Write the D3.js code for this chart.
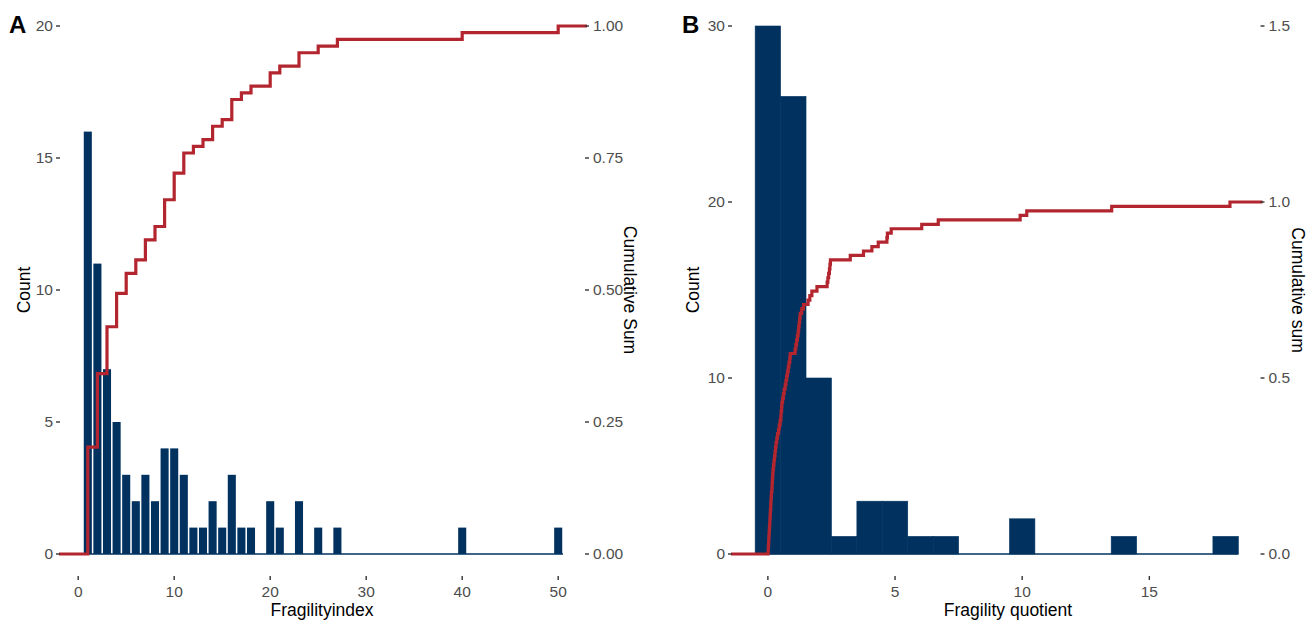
<!DOCTYPE html>
<html>
<head>
<meta charset="utf-8">
<script src="https://cdn.jsdelivr.net/npm/d3@7"></script>
<style>
  body { margin: 0; background: #fff; }
  svg { font-family: "Liberation Sans", Arial, sans-serif; }
</style>
</head>
<body>
<svg width="1308" height="621"></svg>
<script>
const svg = d3.select("svg");
const navy = "#01325f", red = "#b3262f";

// Panel A: fragility index histogram (bins of width 1)
const fiBins = [1,2,3,4,5,6,7,8,9,10,11,12,13,14,15,16,17,18,19,20,21,22,23,24,25,26,27,40,50];
const fiCounts = [16,11,7,5,3,2,3,2,4,4,3,1,1,2,1,3,1,1,0,2,1,0,2,0,1,0,1,1,1];
const fiTicksX = [0,10,20,30,40,50];
const fiTicksY = [0,5,10,15,20];
const fiTicksY2 = [0,0.25,0.5,0.75,1];

// Panel B: fragility quotient histogram + sorted values for the ecdf
const fqBins = [0,1,2,3,4,5,6,7,10,14,18];
const fqCounts = [30,26,10,1,3,3,1,1,2,1,1];
const fqValues = [
  0.01,0.02,0.03,0.04,0.05,0.06,0.07,0.08,0.09,
  0.10,0.11,0.12,0.13,0.14,0.16,
  0.17,0.18,0.19,0.20,0.22,
  0.24,0.26,0.28,0.30,0.32,0.35,
  0.38,0.42,0.45,0.48,
  0.51,0.52,0.54,0.55,
  0.58,0.61,0.64,0.68,
  0.71,0.74,0.77,0.80,0.83,0.86,0.88,
  1.07,
  1.10,1.13,1.16,1.19,1.21,1.23,1.25,1.27,
  1.33,1.40,
  1.58,
  1.65,1.73,
  1.93,
  2.33,2.36,2.39,2.42,2.44,2.46,
  3.24,
  3.76,4.09,4.34,
  4.68,4.70,4.85,
  6.05,
  6.70,
  9.92,10.18,
  13.52,
  18.17
];
const fqTicksX = [0,5,10,15];
const fqTicksY = [0,10,20,30];
const fqTicksY2 = [0,0.5,1,1.5];

function panel(o) {
  const g = svg.append("g");
  const x = d3.scaleLinear().domain(o.xDomain).range(o.xRange);
  const y = d3.scaleLinear().domain(o.yDomain).range([554, 26]);
  const y2 = d3.scaleLinear().domain(o.y2Domain).range([554, 26]);

  // zero-count baseline
  g.append("line")
    .attr("x1", x(o.baseFrom)).attr("x2", x(o.baseTo))
    .attr("y1", y(0)).attr("y2", y(0))
    .attr("stroke", navy).attr("stroke-width", 1.5);

  g.append("g").selectAll("rect")
    .data(o.bins.map((b, i) => ({ b, c: o.counts[i] })).filter(d => d.c > 0))
    .join("rect")
    .attr("x", d => x(d.b - o.half))
    .attr("width", d => x(d.b + o.half) - x(d.b - o.half))
    .attr("y", d => y(d.c))
    .attr("height", d => y(0) - y(d.c))
    .attr("fill", navy)
    .attr("stroke", o.barStroke)
    .attr("stroke-width", 0.6);

  const line = d3.line().x(d => x(d[0])).y(d => y2(d[1])).curve(d3.curveStepAfter);
  g.append("path")
    .datum(o.steps)
    .attr("d", line)
    .attr("fill", "none")
    .attr("stroke", red)
    .attr("stroke-width", 3.2);

  // x ticks
  const xt = g.append("g").selectAll("g").data(o.xTicks).join("g")
    .attr("transform", d => `translate(${x(d)},0)`);
  xt.append("line").attr("y1", 576).attr("y2", 580).attr("stroke", "#333").attr("stroke-width", 1.4);
  xt.append("text").attr("y", 597).attr("text-anchor", "middle")
    .attr("font-size", 15.5).attr("fill", "#4d4d4d").text(d => d);

  // left y ticks
  const yt = g.append("g").selectAll("g").data(o.yTicks).join("g")
    .attr("transform", d => `translate(0,${y(d)})`);
  yt.append("line").attr("x1", o.xRange[0] - 3).attr("x2", o.xRange[0] + 1)
    .attr("stroke", "#333").attr("stroke-width", 1.4);
  yt.append("text").attr("x", o.xRange[0] - 6).attr("dy", "0.35em").attr("text-anchor", "end")
    .attr("font-size", 15.5).attr("fill", "#4d4d4d").text(d => d);

  // right y ticks
  const rt = g.append("g").selectAll("g").data(o.y2Ticks).join("g")
    .attr("transform", d => `translate(0,${y2(d)})`);
  rt.append("line").attr("x1", o.xRange[1] - 2).attr("x2", o.xRange[1] + 2)
    .attr("stroke", "#333").attr("stroke-width", 1.4);
  rt.append("text").attr("x", o.xRange[1] + 6).attr("dy", "0.35em")
    .attr("font-size", 15.5).attr("fill", "#4d4d4d").text(o.y2Format);

  // titles
  g.append("text").attr("transform", `translate(${o.yTitleX},290) rotate(-90)`)
    .attr("text-anchor", "middle").attr("font-size", 17.5).text("Count");
  g.append("text").attr("transform", `translate(${o.y2TitleX},290) rotate(90)`)
    .attr("text-anchor", "middle").attr("font-size", 17.5).text(o.y2Title);
  g.append("text").attr("x", o.xTitleX).attr("y", 616)
    .attr("text-anchor", "middle").attr("font-size", 17.5).text(o.xTitle);
  g.append("text").attr("x", o.tagX).attr("y", 33)
    .attr("font-size", 24).attr("font-weight", "bold").text(o.tag);
}

// ecdf steps, panel A
const fiTotal = d3.sum(fiCounts);
const fiCum = d3.cumsum(fiCounts);
const stepsA = [[-2, 0]]
  .concat(fiBins.map((b, i) => [b, fiCum[i] / fiTotal]).filter((d, i) => fiCounts[i] > 0))
  .concat([[53, 1]]);

// ecdf steps, panel B (right axis 0-1.5, so 1.0 sits at count 20)
const stepsB = [[-1.45, 0]]
  .concat(fqValues.map((v, i) => [v, (i + 1) / fqValues.length]))
  .concat([[19.45, 1]]);

panel({
  xDomain: [-2, 53], xRange: [59, 587],
  yDomain: [0, 20], y2Domain: [0, 1],
  bins: fiBins, counts: fiCounts, half: 0.42, baseFrom: 0.5, baseTo: 50.5,
  barStroke: "none",
  steps: stepsA,
  xTicks: fiTicksX, yTicks: fiTicksY, y2Ticks: fiTicksY2,
  y2Format: d3.format(".2f"),
  yTitleX: 30, y2TitleX: 624, xTitleX: 322, xTitle: "Fragilityindex", y2Title: "Cumulative Sum",
  tag: "A", tagX: 9
});

panel({
  xDomain: [-1.45, 19.45], xRange: [731, 1262.5],
  yDomain: [0, 30], y2Domain: [0, 1.5],
  bins: fqBins, counts: fqCounts, half: 0.5, baseFrom: -0.5, baseTo: 18.5,
  barStroke: navy,
  steps: stepsB,
  xTicks: fqTicksX, yTicks: fqTicksY, y2Ticks: fqTicksY2,
  y2Format: d3.format(".1f"),
  yTitleX: 699, y2TitleX: 1292, xTitleX: 1008, xTitle: "Fragility quotient", y2Title: "Cumulative sum",
  tag: "B", tagX: 682
});
</script>
</body>
</html>
